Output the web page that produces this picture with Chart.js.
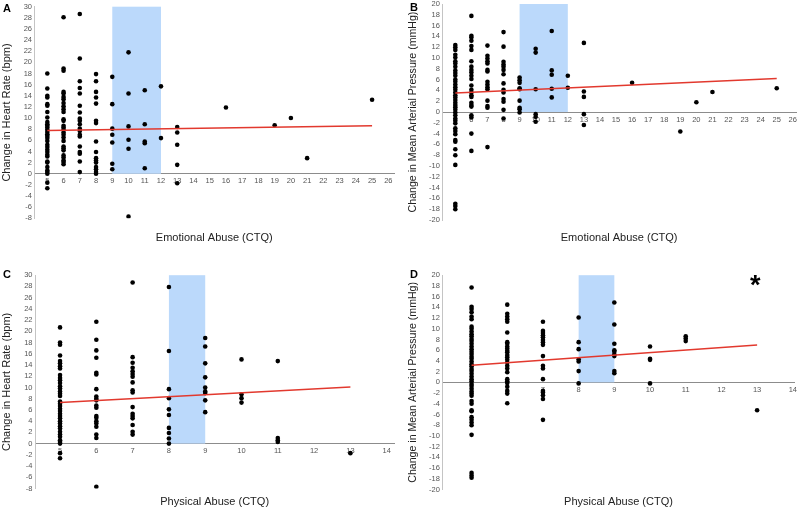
<!DOCTYPE html>
<html><head><meta charset="utf-8">
<script src="https://cdn.jsdelivr.net/npm/chart.js@4.4.0/dist/chart.umd.min.js"></script>
<style>
html,body{margin:0;padding:0;background:#fff;}
#wrap{position:relative;width:800px;height:510px;overflow:hidden;font-family:"Liberation Sans",Arial,sans-serif;}
#wrap canvas{position:absolute;}
.lbl{position:absolute;font-weight:bold;font-size:11px;line-height:11px;color:#000;}
.star{position:absolute;font-weight:bold;font-size:27px;line-height:27px;color:#000;}
</style></head><body>
<div id="wrap">
<canvas id="cA" width="400" height="255" style="left:0;top:0"></canvas>
<canvas id="cB" width="400" height="255" style="left:400px;top:0"></canvas>
<canvas id="cC" width="400" height="255" style="left:0;top:255px"></canvas>
<canvas id="cD" width="400" height="255" style="left:400px;top:255px"></canvas>
<div class="lbl" style="left:3px;top:2.6px">A</div>
<div class="lbl" style="left:410px;top:2px">B</div>
<div class="lbl" style="left:3px;top:268.5px">C</div>
<div class="lbl" style="left:410px;top:268.5px">D</div>
<div class="star" style="left:750px;top:272px">*</div>
</div>
<script>
// ---- data (CTQ score, change values) ----
const emotionalHR = [
  [5, [18.0,15.3,14.0,13.7,12.5,12.2,11.1,10.1,9.3,8.9,8.6,8.3,7.9,7.5,7.1,6.8,6.4,5.9,5.2,4.8,4.3,3.9,3.4,3.1,2.2,2.0,1.2,0.6,0.3,0.0,-1.6,-2.6]],
  [6, [28.1,18.9,18.5,14.7,14.4,13.8,13.4,12.7,12.1,11.6,11.1,9.8,9.5,8.6,8.3,7.9,7.4,7.0,6.5,5.9,4.9,4.6,4.2,3.3,2.9,2.4,2.1,1.7]],
  [7, [28.7,20.7,16.6,15.4,14.4,12.2,11.0,9.9,9.5,8.9,8.1,7.7,7.0,6.7,4.9,3.9,3.6,2.2,0.3]],
  [8, [17.9,16.6,14.7,13.7,12.6,9.5,9.1,5.8,3.9,2.8,2.4,2.0,1.2,0.8,0.3,0.0]],
  [9, [17.4,12.5,8.1,7.0,5.6,1.8,0.8]],
  [10, [21.8,14.4,8.5,6.1,4.5,-7.7]],
  [11, [15.0,8.9,5.8,5.5,1.0]],
  [12, [15.7,6.4]],
  [13, [8.4,7.4,5.2,1.6,-1.7]],
  [16, [11.9]], [19, [8.7]], [20, [10.0]], [21, [2.8]], [25, [13.3]]
];
const emotionalMAP = [
  [5, [12.4,12.0,11.5,10.6,10.1,9.4,9.0,8.4,7.7,7.2,6.7,6.0,5.6,5.1,4.6,4.1,3.6,3.1,2.7,2.2,1.7,1.3,0.9,0.4,-0.1,-0.6,-1.2,-1.6,-2.1,-3.0,-3.5,-4.1,-5.2,-5.5,-6.9,-8.0,-9.8,-17.0,-17.4,-18.0]],
  [6, [17.8,14.1,13.8,13.2,12.2,11.5,9.4,8.4,7.8,7.3,6.7,6.1,4.9,4.1,3.6,3.1,2.8,1.7,1.3,1.0,-0.6,-1.0,-4.0,-7.2]],
  [7, [12.3,10.4,9.9,9.4,9.0,7.8,7.5,5.6,5.1,4.6,4.2,2.1,1.1,0.8,-6.5]],
  [8, [14.8,12.1,9.3,8.8,8.4,7.8,7.0,5.3,4.1,3.6,2.4,1.9,0.4,-1.2]],
  [9, [6.4,5.9,5.4,4.4,4.2,2.1,0.8,0.5,-0.1]],
  [10, [11.7,11.0,4.2,-0.4,-0.9,-1.8]],
  [11, [15.0,7.7,6.9,4.3,2.7]],
  [12, [6.7,4.5]],
  [13, [12.8,3.8,2.8,-0.4,-2.4]],
  [16, [5.4]], [19, [-3.6]], [20, [1.8]], [21, [3.7]], [25, [4.4]]
];
const physicalHR = [
  [5, [20.7,18.0,17.6,15.7,14.7,14.3,13.8,13.4,12.2,11.7,11.3,10.8,10.2,9.8,9.3,8.9,8.5,7.5,7.1,6.7,6.2,5.8,5.3,4.9,4.5,4.0,3.6,3.1,2.7,2.1,1.6,1.2,0.6,0.3,0.0,-1.7,-2.6]],
  [6, [21.7,18.5,16.6,15.3,12.6,12.3,9.7,8.4,8.0,7.7,6.8,6.4,4.9,4.6,4.0,3.6,3.0,1.6,1.0,-7.7]],
  [7, [28.7,15.4,14.4,13.5,12.9,12.4,11.9,10.9,9.5,9.1,6.5,5.3,4.9,4.5,3.3,2.1,1.6]],
  [8, [27.9,16.5,9.7,8.1,6.1,5.1,2.8,1.9,0.9,0.0]],
  [9, [18.8,17.3,14.3,11.8,10.0,9.3,9.0,7.7,5.6]],
  [10, [15.0,8.8,8.1,7.3]],
  [11, [14.7,1.0,0.6,0.3]],
  [13, [-1.7]]
];
const physicalMAP = [
  [5, [17.7,14.1,13.7,13.1,12.3,11.8,10.4,10.0,9.5,9.0,8.6,8.1,7.7,7.2,6.7,6.2,5.7,5.3,4.8,4.4,3.9,3.4,3.0,2.5,2.1,1.6,1.1,0.6,0.2,-0.3,-0.7,-1.2,-1.7,-2.1,-2.5,-3.5,-4.0,-5.2,-5.4,-6.5,-7.0,-7.5,-8.0,-9.8,-16.9,-17.4,-17.8]],
  [6, [14.5,12.8,12.3,11.8,11.3,9.3,7.5,7.2,6.7,6.3,5.9,5.6,5.1,4.7,4.2,3.7,3.1,2.6,1.9,0.6,0.2,-0.1,-0.8,-1.6,-2.1,-3.9]],
  [7, [11.3,9.6,9.2,8.8,8.4,7.9,7.5,7.0,4.9,3.1,2.6,0.6,-1.6,-1.9,-2.4,-3.1,-7.0]],
  [8, [12.1,7.5,6.2,4.3,3.9,2.1,-0.2]],
  [9, [14.9,10.8,7.2,6.0,5.7,5.2,4.9,2.1,1.7]],
  [10, [6.7,4.4,4.2,-0.2]],
  [11, [8.6,8.2,7.7]],
  [13, [-5.2]]
];
// regression lines: [x, y] endpoints
const fitEmotionalHR = [[5, 7.75], [25, 8.6]];
const fitEmotionalMAP = [[5, 3.5], [25, 6.2]];
const fitPhysicalHR = [[5, 7.3], [13, 10.1]];
const fitPhysicalMAP = [[5, 3.2], [13, 6.95]];
// highlighted CTQ ranges
const shadeEmotional = [9, 12];
const shadePhysical = [8, 9];
// tick labels
const xTicksEmotional = [5,6,7,8,9,10,11,12,13,14,15,16,17,18,19,20,21,22,23,24,25,26];
const xTicksPhysical = [5,6,7,8,9,10,11,12,13,14];
const yTicksHR = [-8,-6,-4,-2,0,2,4,6,8,10,12,14,16,18,20,22,24,26,28,30];
const yTicksMAP = [-20,-18,-16,-14,-12,-10,-8,-6,-4,-2,0,2,4,6,8,10,12,14,16,18,20];
const titleEmotional = 'Emotional Abuse (CTQ)';
const titlePhysical = 'Physical Abuse (CTQ)';
const titleHR = 'Change in Heart Rate (bpm)';
const titleMAP = 'Change in Mean Arterial Pressure (mmHg)';

const shadePlugin = {
  id: 'shade',
  beforeDatasetsDraw(chart, args, opts) {
    const {ctx, scales: {x, y}} = chart;
    const x0 = x.getPixelForValue(opts.range[0]);
    const x1 = x.getPixelForValue(opts.range[1]);
    const y0 = y.getPixelForValue(0);
    const y1 = y.getPixelForValue(y.max);
    ctx.save();
    ctx.fillStyle = opts.color;
    ctx.fillRect(x0, y1, x1 - x0, y0 - y1);
    ctx.restore();
  }
};

const tickFont = {family: 'Liberation Sans', size: 7.5};
const titleFont = {family: 'Liberation Sans', size: 11, weight: 'normal'};

function makePanel(id, p) {
  const pts = [];
  p.groups.forEach(([gx, ys]) => ys.forEach(v => pts.push({x: gx, y: v})));
  new Chart(document.getElementById(id), {
    data: {
      datasets: [
        {type: 'line', data: p.fit.map(([a, b]) => ({x: a, y: b})), borderColor: '#e2392e', borderWidth: 1.5,
         pointRadius: 0, fill: false, order: 0},
        {type: 'scatter', data: pts, pointRadius: 2.3, pointBackgroundColor: '#000', pointBorderWidth: 0,
         pointHoverRadius: 2.3, order: 1}
      ]
    },
    options: {
      responsive: false, animation: false,
      layout: {padding: {left: 0, right: p.padR, top: p.padT, bottom: p.padB}},
      plugins: {
        legend: {display: false}, tooltip: {enabled: false},
        title: {display: true, position: 'bottom', text: p.xTitle, fullSize: false, font: titleFont, color: '#222',
                padding: {top: p.titlePad, bottom: 0}},
        shade: {range: p.shade, color: '#bbd9fb'}
      },
      scales: {
        x: {
          type: 'linear', min: p.xMin, max: p.xMax, position: {y: 0},
          afterBuildTicks: s => { s.ticks = p.xTicks.map(v => ({value: v})); },
          grid: {display: false, drawTicks: false},
          border: {display: true, color: '#8c8c8c', width: 1},
          ticks: {font: tickFont, color: '#555', padding: 3, maxRotation: 0, autoSkip: false}
        },
        y: {
          type: 'linear', position: 'left', min: p.yMin, max: p.yMax,
          afterBuildTicks: s => { s.ticks = p.yTicks.map(v => ({value: v})); },
          afterFit: s => { s.width = p.yW; s.paddingTop = 0; s.paddingBottom = 0; },
          grid: {display: false, drawTicks: false},
          border: {display: true, color: '#c4c4c4', width: 1},
          ticks: {font: tickFont, color: '#555', padding: 2.5, autoSkip: false},
          title: {display: true, text: p.yTitle, font: {family: 'Liberation Sans', size: p.yTitleSize, weight: 'normal'},
                  color: '#222', padding: {top: p.yTitlePad, bottom: 0}}
        }
      }
    },
    plugins: [shadePlugin]
  });
}

makePanel('cA', {groups: emotionalHR, fit: fitEmotionalHR, shade: shadeEmotional, xTicks: xTicksEmotional, yTicks: yTicksHR,
  xMin: 4.21, xMax: 26.35, yMin: -8, yMax: 30, yW: 34.5, padR: 6, padT: 6.7, padB: 10.4, titlePad: 13.1,
  xTitle: titleEmotional, yTitle: titleHR, yTitlePad: 0, yTitleSize: 11});
makePanel('cB', {groups: emotionalMAP, fit: fitEmotionalMAP, shade: shadeEmotional, xTicks: xTicksEmotional, yTicks: yTicksMAP,
  xMin: 4.19, xMax: 26.2, yMin: -20, yMax: 20, yW: 42.3, padR: 2, padT: 4, padB: 10.1, titlePad: 11.7,
  xTitle: titleEmotional, yTitle: titleMAP, yTitlePad: 7, yTitleSize: 10.6});
makePanel('cC', {groups: physicalHR, fit: fitPhysicalHR, shade: shadePhysical, xTicks: xTicksPhysical, yTicks: yTicksHR,
  xMin: 4.31, xMax: 14.21, yMin: -8, yMax: 30, yW: 35, padR: 5.7, padT: 20.2, padB: 1.7, titlePad: 6.6,
  xTitle: titlePhysical, yTitle: titleHR, yTitlePad: 0, yTitleSize: 11});
makePanel('cD', {groups: physicalMAP, fit: fitPhysicalMAP, shade: shadePhysical, xTicks: xTicksPhysical, yTicks: yTicksMAP,
  xMin: 4.18, xMax: 14.05, yMin: -20, yMax: 20, yW: 42.3, padR: 5, padT: 20.2, padB: 1.7, titlePad: 5.6,
  xTitle: titlePhysical, yTitle: titleMAP, yTitlePad: 7, yTitleSize: 10.6});
</script>
</body></html>
